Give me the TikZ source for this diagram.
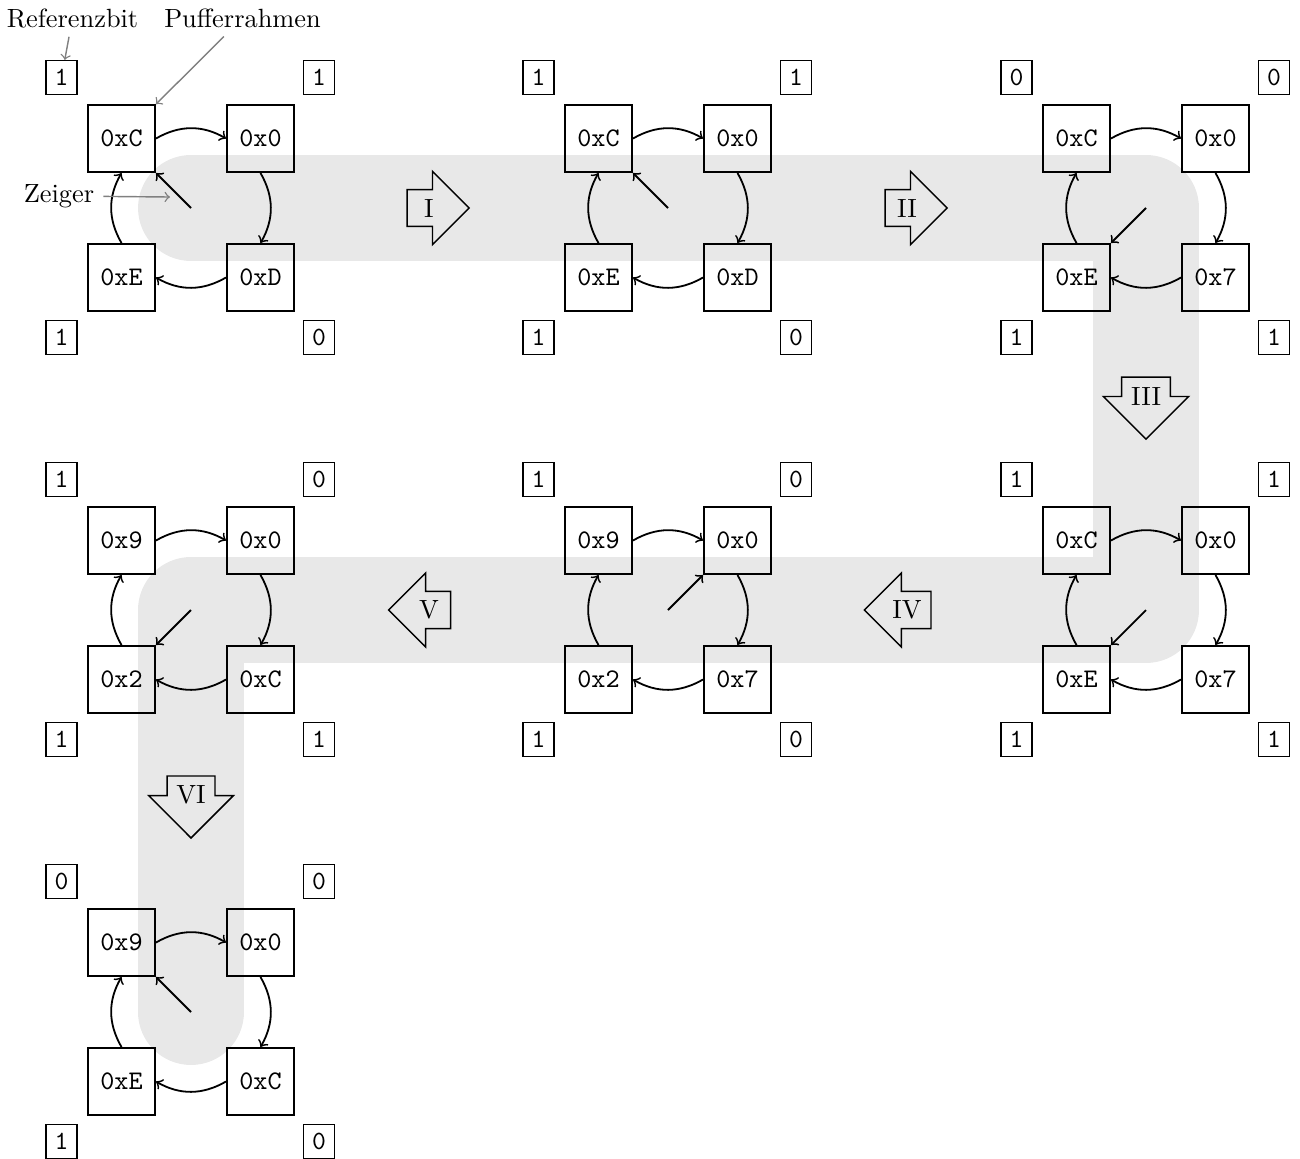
\documentclass[tikz,border=0pt]{standalone}
\usetikzlibrary{shapes.arrows}
\begin{document}
\begin{tikzpicture}[x=0.3871pt,y=-0.3871pt,
  every node/.style={font=\fontsize{10.2}{12}\selectfont},
  frame/.style={draw,line width=0.7pt,minimum size=26pt,inner sep=0pt,
    font=\fontsize{10.4}{12}\selectfont\ttfamily},
  refbit/.style={draw,line width=0.6pt,font=\fontsize{10.2}{12}\selectfont\ttfamily},
  link/.style={->,line width=0.7pt},
  hint/.style={->,gray,line width=0.55pt},
  stepmark/.style={single arrow,draw,line width=0.55pt,minimum height=24pt}]
\useasboundingbox (0,0) rectangle (1300,1158);

% centres of the seven clock states
\coordinate (A) at (191,208);
\coordinate (B) at (668,208);
\coordinate (C) at (1146,208);
\coordinate (D) at (1146,610);
\coordinate (E) at (668,610);
\coordinate (F) at (191,610);
\coordinate (G) at (191,1012);

% grey track through the states
\draw[line width=41pt,black!9,line cap=round,line join=round]
  (A) -- (C) -- (D) -- (F) -- (G);

% frames (tl, tr, br, bl) and their reference bits
\foreach \n/\x/\y/\a/\b/\c/\d/\p/\q/\r/\s in {
  A/191/208/C/0/D/E/1/1/0/1,
  B/668/208/C/0/D/E/1/1/0/1,
  C/1146/208/C/0/7/E/0/0/1/1,
  D/1146/610/C/0/7/E/1/1/1/1,
  E/668/610/9/0/7/2/1/0/0/1,
  F/191/610/9/0/C/2/1/0/1/1,
  G/191/1012/9/0/C/E/0/0/0/1}
{
  \node[frame] (\n-tl) at ({\x-69.5},{\y-69.5}) {0x\a};
  \node[frame] (\n-tr) at ({\x+69.5},{\y-69.5}) {0x\b};
  \node[frame] (\n-br) at ({\x+69.5},{\y+69.5}) {0x\c};
  \node[frame] (\n-bl) at ({\x-69.5},{\y+69.5}) {0x\d};
  \node[refbit] (\n-btl) at ({\x-129.5},{\y-130.5}) {\p};
  \node[refbit] (\n-btr) at ({\x+128},{\y-130.5}) {\q};
  \node[refbit] (\n-bbr) at ({\x+128},{\y+129.5}) {\r};
  \node[refbit] (\n-bbl) at ({\x-129.5},{\y+129.5}) {\s};
  \draw[link] (\n-tl.east) to[bend left=30] (\n-tr.west);
  \draw[link] (\n-tr.south) to[bend left=30] (\n-br.north);
  \draw[link] (\n-br.west) to[bend left=30] (\n-bl.east);
  \draw[link] (\n-bl.north) to[bend left=30] (\n-tl.south);
}

% clock hands
\draw[link] (A) -- (A-tl.south east);
\draw[link] (B) -- (B-tl.south east);
\draw[link] (C) -- (C-bl.north east);
\draw[link] (D) -- (D-bl.north east);
\draw[link] (E) -- (E-tr.south west);
\draw[link] (F) -- (F-bl.north east);
\draw[link] (G) -- (G-tl.south east);

% steps
\node[stepmark] (s1) at (429,208) {I};
\node[stepmark] (s2) at (907,208) {II};
\node[stepmark,shape border rotate=270] (s3) at (1146,396) {III};
\node[stepmark,shape border rotate=180] (s4) at (907,610) {IV};
\node[stepmark,shape border rotate=180] (s5) at (429,610) {V};
\node[stepmark,shape border rotate=270] (s6) at (191,795) {VI};

% legend
\node (lref) at (72.5,18) {Referenzbit};
\node (lpuf) at (242.5,18) {Pufferrahmen};
\node (lzei) at (59,196) {Zeiger};
\coordinate (zeigerziel) at (170,197);
\draw[hint] (lref) -- (A-btl);
\draw[hint] (lpuf) -- (A-tl);
\draw[hint] (lzei) -- (zeigerziel);
\end{tikzpicture}
\end{document}
